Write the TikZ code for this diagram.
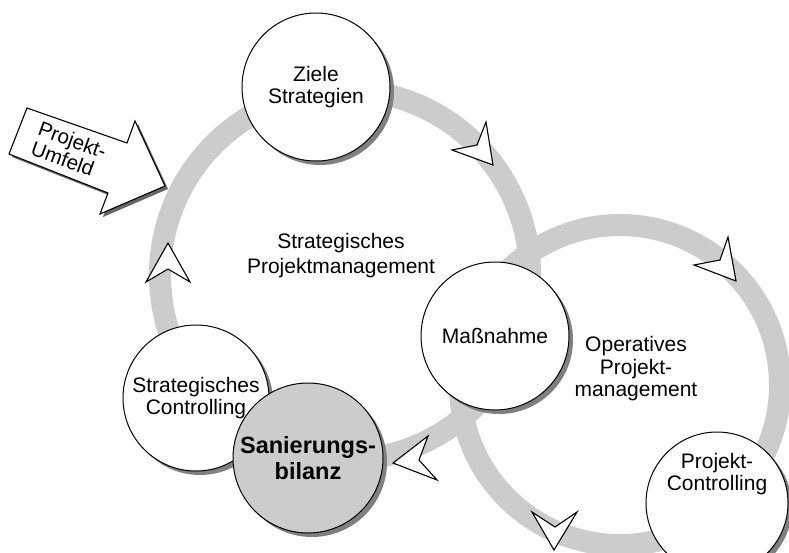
\documentclass[tikz,border=0pt]{standalone}
\usepackage{fontspec}
\setmainfont{Liberation Sans}
\usetikzlibrary{shadows}
\tikzset{bubble/.style={circle,draw,line width=1pt,fill=white,inner sep=0pt,align=center,drop shadow={shadow xshift=4pt,shadow yshift=-4pt,opacity=1,fill=black!50}}}
\tikzset{tri/.style={draw,fill=white,line width=1.1pt,line join=miter}}
\tikzset{ring/.style={draw=black!20,line width=22pt}}

\begin{document}
\begin{tikzpicture}[x=1pt,y=-1pt,line join=round,font=\fontsize{21}{22.5}\selectfont]
\useasboundingbox (0,0) rectangle (789,552);
% --- the two cycles
\draw[ring] (345,275) circle (185pt);
\draw[ring] (620,385) circle (160pt);
% --- open arrow tips on the cycles
\draw[tri] (493,165) -- (486,122) -- (477,145) -- (452,150) -- cycle;
\draw[tri] (736,281) -- (728,237) -- (720,260) -- (694,265) -- cycle;
\draw[tri] (393,463) -- (428,436) -- (419,460) -- (437,480) -- cycle;
\draw[tri] (554,550) -- (577,512) -- (555,527) -- (532,512) -- cycle;
\draw[tri] (168,243) -- (190,282) -- (168,269) -- (146,282) -- cycle;
% --- environment arrow
\draw[tri,drop shadow={shadow xshift=3pt,shadow yshift=-3pt,opacity=1,fill=black!60}]
  (27,108) -- (127,143) -- (135,121) -- (165,186) -- (100,214) -- (108,193) -- (9,154) -- cycle;
\node[rotate=-20,align=left,font=\fontsize{20.5}{21}\selectfont] (umfeld) at (69,150) {Projekt-\\Umfeld};
% --- stations
\node[bubble,minimum size=148pt] (ziele) at (316,87) {Ziele\\Strategien};
\node[bubble,minimum size=146pt] (scontr) at (196,398) {Strategisches\\Controlling};
\node[bubble,fill=black!20,minimum size=150pt,font=\bfseries\fontsize{23.5}{26}\selectfont] (sbil) at (308,458) {Sanierungs-\\bilanz};
\node[bubble,minimum size=148pt] (mass) at (495,336) {Maßnahme};
\node[bubble,minimum size=142pt] (pcontr) at (717,503) {};
\node[align=center] (pctext) at (717,474) {Projekt-\\Controlling};
% --- cycle names
\node[align=center,font=\fontsize{21}{25}\selectfont] (spm) at (341,256) {Strategisches\\Projektmanagement};
\node[align=center] (opm) at (636,369) {Operatives\\Projekt-\\management};
\end{tikzpicture}
\end{document}
